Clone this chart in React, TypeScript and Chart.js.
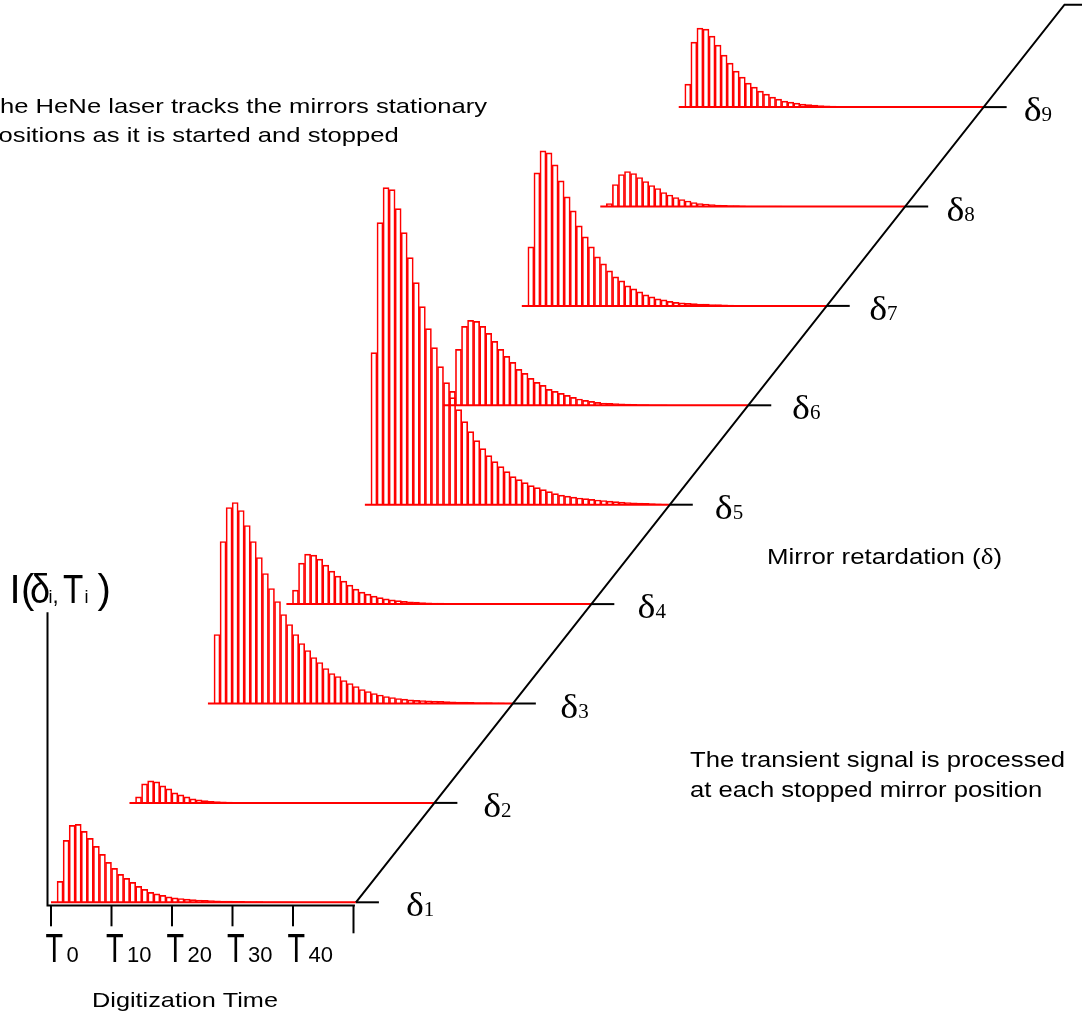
import React, { useEffect, useRef } from "react";
import { Chart, registerables } from "chart.js";

Chart.register(...registerables);

const WIDTH = 1082;
const HEIGHT = 1016;

// Digitization time axis: bins per transient and labelled ticks T0..T40
const BIN_COUNT = 50;
const TIME_TICKS = [0, 10, 20, 30, 40, 50];
const TIME_TICK_LABELS = ["0", "10", "20", "30", "40", ""];

// Stopped mirror positions (subscripts of δ)
const RETARDATION_LABELS = ["1", "2", "3", "4", "5", "6", "7", "8", "9"];

// Transient intensity in each digitization bin, one array per stopped mirror position
const I_DELTA_1 = [
  0, 21, 62, 77, 78, 71, 64, 56, 48, 40, 34, 28, 24, 20, 16, 13, 10, 8.5, 7, 5.5,
  4.5, 3.8, 3.2, 2.7, 2.3, 2, 1.7, 1.5, 1.3, 1.1, 1, 0.9, 0.8, 0.7, 0.6, 0.5, 0.5, 0.4, 0.4, 0.4,
  0.3, 0.3, 0.3, 0.3, 0.2, 0.2, 0.2, 0.2, 0.2, 0.2,
];
const I_DELTA_2 = [
  0, 6, 19, 22, 21, 17, 14, 10, 8, 6, 4, 3, 2.2, 1.6, 1.2, 1, 0.8, 0.6, 0.5, 0.4,
  0.4, 0.3, 0.3, 0.3, 0.2, 0.2, 0.2, 0.2, 0.2, 0.2, 0.2, 0.2, 0.2, 0.2, 0.2, 0.2, 0.2, 0.2, 0.2, 0.2,
  0.2, 0.2, 0.2, 0.2, 0.2, 0.2, 0.2, 0.2, 0.2, 0.2,
];
const I_DELTA_3 = [
  0, 69, 162, 196, 201, 193, 178, 162, 146, 130, 115, 102, 89, 79, 69, 60, 53, 46, 41, 35,
  30, 27, 23, 20, 17, 14, 12, 10, 8.5, 7, 6, 5, 4.3, 3.7, 3.2, 3, 2.7, 2.4, 2.1, 1.9,
  1.7, 1.5, 1.3, 1.1, 1, 0.9, 0.8, 0.7, 0.6, 0.5,
];
const I_DELTA_4 = [
  0, 14, 41, 50, 49, 45, 39, 33, 28, 23, 19, 15, 12, 10, 8, 6.5, 5.2, 4.2, 3.4, 2.8,
  2.3, 1.9, 1.6, 1.3, 1.1, 0.9, 0.8, 0.7, 0.6, 0.5, 0.5, 0.4, 0.4, 0.3, 0.3, 0.3, 0.3, 0.2, 0.2, 0.2,
  0.2, 0.2, 0.2, 0.2, 0.2, 0.2, 0.2, 0.2, 0.2, 0.2,
];
const I_DELTA_5 = [
  0, 152, 282, 317, 315, 296, 272, 247, 222, 198, 176, 157, 138, 122, 107, 95, 83, 73, 64, 56,
  49, 43, 38, 33, 28, 25, 22, 19, 17, 15, 13, 11, 9.5, 8.5, 7.5, 6.7, 6, 5.3, 4.7, 4.2,
  3.6, 3.1, 2.6, 2.2, 1.9, 1.6, 1.3, 1.1, 0.9, 0.7,
];
const I_DELTA_6 = [
  0, 14, 56, 79, 85, 84, 79, 72, 64, 56, 49, 43, 36, 32, 27, 23, 20, 16, 14, 12,
  10, 8, 6.3, 5, 4, 3, 2.3, 2, 1.7, 1.4, 1.2, 1, 0.8, 0.6, 0.5, 0.4, 0.4, 0.3, 0.3, 0.3,
  0.2, 0.2, 0.2, 0.2, 0.2, 0.2, 0.2, 0.2, 0.2, 0.2,
];
const I_DELTA_7 = [
  0, 59, 133, 155, 153, 141, 125, 109, 95, 80, 69, 59, 49, 42, 35, 29, 25, 20, 17, 14,
  11, 9, 7, 6, 4.5, 3.5, 3, 2.5, 2.2, 1.9, 1.7, 1.4, 1.2, 1, 0.8, 0.6, 0.5, 0.4, 0.4, 0.3,
  0.3, 0.3, 0.2, 0.2, 0.2, 0.2, 0.2, 0.2, 0.2, 0.2,
];
const I_DELTA_8 = [
  0, 3, 22, 32, 35, 33, 29, 25, 21, 18, 14, 11.5, 9, 7, 5.5, 4, 3, 2.5, 2, 1.5,
  1.2, 1, 0.8, 0.6, 0.5, 0.4, 0.4, 0.3, 0.3, 0.3, 0.2, 0.2, 0.2, 0.2, 0.2, 0.2, 0.2, 0.2, 0.2, 0.2,
  0.2, 0.2, 0.2, 0.2, 0.2, 0.2, 0.2, 0.2, 0.2, 0.2,
];
const I_DELTA_9 = [
  0, 23, 65, 79, 78, 71, 62, 52, 44, 36, 30, 24, 20, 16, 13, 10, 8, 6, 5, 4,
  3, 2.5, 2, 1.5, 1.2, 1, 0.8, 0.6, 0.5, 0.4, 0.4, 0.3, 0.3, 0.3, 0.2, 0.2, 0.2, 0.2, 0.2, 0.2,
  0.2, 0.2, 0.2, 0.2, 0.2, 0.2, 0.2, 0.2, 0.2, 0.2,
];

const TRANSIENTS = [
  I_DELTA_1, I_DELTA_2, I_DELTA_3, I_DELTA_4, I_DELTA_5,
  I_DELTA_6, I_DELTA_7, I_DELTA_8, I_DELTA_9,
];

// Geometry of the drawing (time bins horizontally, intensity units vertically)
const PX_PER_BIN = 6.05;
const X_MIN = -8.43;
const X_MAX = X_MIN + WIDTH / PX_PER_BIN;
const Y_MAX = 902.3;
const Y_MIN = Y_MAX - HEIGHT;
// each stopped mirror position is shifted along the oblique retardation axis
const STEP_T = 12.97;
const STEP_I = 99.4;
const BASE_END = 50.4;
const AXIS_TOP_K = 9.03;
const TICK_LEN = 3.8;

const RED = "#ff0000";
const SANS = '"Liberation Sans", Arial, sans-serif';
const SERIF = '"Liberation Serif", "Times New Roman", serif';

type Seg = { t: string; font: string; sx?: number; dx?: number };

function drawSegs(ctx: CanvasRenderingContext2D, segs: Seg[], x: number, y: number) {
  let cx = x;
  for (const s of segs) {
    const sx = s.sx ?? 1;
    ctx.save();
    ctx.font = s.font;
    ctx.translate(cx, y);
    ctx.scale(sx, 1);
    ctx.fillText(s.t, 0, 0);
    ctx.restore();
    ctx.font = s.font;
    cx += ctx.measureText(s.t).width * sx + (s.dx ?? 0);
  }
  return cx;
}

function widthOf(ctx: CanvasRenderingContext2D, segs: Seg[]) {
  let w = 0;
  for (const s of segs) {
    ctx.font = s.font;
    w += ctx.measureText(s.t).width;
  }
  return w;
}

function fitted(ctx: CanvasRenderingContext2D, segs: Seg[], x: number, y: number, width: number) {
  const sx = width / widthOf(ctx, segs);
  drawSegs(ctx, segs.map((s) => ({ ...s, sx })), x, y);
  return sx;
}

const overlay = {
  id: "overlay",
  afterDatasetsDraw(chart: any) {
    const ctx: CanvasRenderingContext2D = chart.ctx;
    const x0 = chart.scales.x0;
    const y0 = chart.scales.y0;
    const ox = x0.getPixelForValue(0);
    const oy = y0.getPixelForValue(0);

    ctx.save();
    ctx.strokeStyle = "#000";
    ctx.fillStyle = "#000";
    ctx.lineWidth = 2;
    ctx.lineCap = "butt";
    ctx.lineJoin = "miter";

    // intensity axis and digitization time axis
    ctx.beginPath();
    ctx.moveTo(ox - 3.5, oy - 290);
    ctx.lineTo(ox - 3.5, oy + 3.3);
    ctx.lineTo(x0.getPixelForValue(BASE_END) - 1, oy + 3.3);
    ctx.stroke();

    TIME_TICKS.forEach((t, i) => {
      const px = x0.getPixelForValue(t);
      ctx.beginPath();
      ctx.moveTo(px, oy + 3.3);
      ctx.lineTo(px, oy + (i === TIME_TICKS.length - 1 ? 31 : 24));
      ctx.stroke();
    });

    ctx.textBaseline = "alphabetic";
    ctx.textAlign = "left";

    // T0 ... T40
    TIME_TICKS.forEach((t, i) => {
      const lab = TIME_TICK_LABELS[i];
      if (!lab) return;
      const px = x0.getPixelForValue(t) - 5.5;
      drawSegs(ctx, [{ t: "T", font: `40px ${SANS}`, sx: 0.72 }], px, 962);
      drawSegs(ctx, [{ t: lab, font: `22px ${SANS}` }], px + 21, 962);
    });

    // δ1 ... δ9 at the end of each baseline
    RETARDATION_LABELS.forEach((lab, k) => {
      const xs = chart.scales[`x${k}`];
      const ys = chart.scales[`y${k}`];
      const px = xs.getPixelForValue(BASE_END) + 50 - 1.25 * k;
      const py = ys.getPixelForValue(0) + 14;
      drawSegs(
        ctx,
        [
          { t: "δ", font: `33px ${SERIF}`, sx: 1.15 },
          { t: lab, font: `20px ${SERIF}`, sx: 1.05 },
        ],
        px,
        py
      );
    });

    // I(δi,Ti)
    const big = `40px ${SANS}`;
    const sub = `18px ${SANS}`;
    drawSegs(ctx, [{ t: "I", font: big }], 9.5, 603);
    drawSegs(ctx, [{ t: "(", font: big }], 21, 603);
    drawSegs(ctx, [{ t: "δ", font: `40px ${SANS}`, sx: 0.9 }], 30, 603);
    drawSegs(ctx, [{ t: "i", font: sub }], 48.5, 603);
    drawSegs(ctx, [{ t: ",", font: `22px ${SANS}` }], 52.5, 603);
    drawSegs(ctx, [{ t: "T", font: big, sx: 0.83 }], 63, 603);
    drawSegs(ctx, [{ t: "i", font: sub }], 84.5, 603);
    drawSegs(ctx, [{ t: ")", font: big }], 97.5, 603);

    // Notes
    const noteFont = `21px ${SANS}`;
    ctx.font = noteFont;
    const noteSx = 487 / ctx.measureText("he HeNe laser tracks the mirrors stationary").width;
    const noteX = -ctx.measureText("T").width * noteSx;
    drawSegs(ctx, [{ t: "The HeNe laser tracks the mirrors stationary", font: noteFont, sx: noteSx }], noteX, 113);
    drawSegs(ctx, [{ t: "positions as it is started and stopped", font: noteFont, sx: noteSx }], noteX, 141.5);

    fitted(
      ctx,
      [
        { t: "Mirror retardation (", font: `22px ${SANS}` },
        { t: "δ", font: `23px ${SERIF}` },
        { t: ")", font: `22px ${SANS}` },
      ],
      767,
      564,
      235
    );

    const procFont = `22px ${SANS}`;
    const procSx = fitted(ctx, [{ t: "The transient signal is processed", font: procFont }], 690, 767, 375);
    drawSegs(ctx, [{ t: "at each stopped mirror position", font: procFont, sx: procSx }], 690, 797);

    fitted(ctx, [{ t: "Digitization Time", font: `21px ${SANS}` }], 92, 1007, 186);

    ctx.restore();
  },
};

export default function App() {
  const ref = useRef<HTMLCanvasElement>(null);

  useEffect(() => {
    document.body.style.margin = "0";
    const canvas = ref.current;
    if (!canvas) return;

    const scales: any = {};
    const datasets: any[] = [];

    TRANSIENTS.forEach((values, k) => {
      const xId = `x${k}`;
      const yId = `y${k}`;
      scales[xId] = {
        type: "linear",
        display: false,
        offset: false,
        min: X_MIN - k * STEP_T,
        max: X_MAX - k * STEP_T,
      };
      scales[yId] = {
        type: "linear",
        display: false,
        min: Y_MIN - k * STEP_I,
        max: Y_MAX - k * STEP_I,
      };

      datasets.push({
        type: "bar",
        xAxisID: xId,
        yAxisID: yId,
        data: values.slice(0, BIN_COUNT).map((v, j) => ({ x: j + 0.5, y: v })),
        backgroundColor: "rgba(0,0,0,0)",
        borderColor: RED,
        borderWidth: 1,
        borderSkipped: "start",
        barThickness: PX_PER_BIN,
        grouped: false,
      });
      datasets.push({
        type: "line",
        xAxisID: xId,
        yAxisID: yId,
        data: [
          { x: 0, y: 0 },
          { x: BASE_END, y: 0 },
        ],
        borderColor: RED,
        borderWidth: 2,
        pointRadius: 0,
        tension: 0,
      });
      datasets.push({
        type: "line",
        xAxisID: xId,
        yAxisID: yId,
        data: [
          { x: BASE_END, y: 0 },
          { x: BASE_END + TICK_LEN, y: 0 },
        ],
        borderColor: "#000",
        borderWidth: 2,
        pointRadius: 0,
        tension: 0,
      });
    });

    // oblique mirror retardation axis
    datasets.unshift({
      type: "line",
      xAxisID: "x0",
      yAxisID: "y0",
      data: [
        { x: BASE_END, y: 0 },
        { x: BASE_END + AXIS_TOP_K * STEP_T, y: AXIS_TOP_K * STEP_I },
        { x: X_MAX + 2, y: AXIS_TOP_K * STEP_I },
      ],
      borderColor: "#000",
      borderWidth: 2,
      borderJoinStyle: "miter",
      pointRadius: 0,
      tension: 0,
    });

    const chart = new Chart(canvas, {
      type: "bar",
      data: { datasets },
      options: {
        animation: false,
        responsive: false,
        devicePixelRatio: 1,
        events: [],
        layout: { padding: 0 },
        plugins: { legend: { display: false }, tooltip: { enabled: false } },
        scales,
      } as any,
      plugins: [overlay],
    });

    return () => chart.destroy();
  }, []);

  return (
    <div style={{ position: "fixed", left: 0, top: 0, width: WIDTH, height: HEIGHT, background: "#fff" }}>
      <canvas ref={ref} width={WIDTH} height={HEIGHT} style={{ display: "block" }} />
    </div>
  );
}
